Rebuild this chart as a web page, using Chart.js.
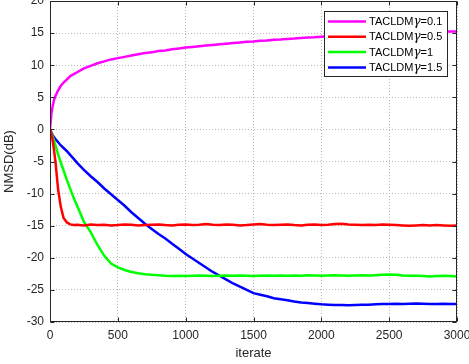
<!DOCTYPE html>
<html>
<head>
<meta charset="utf-8">
<script src="https://cdn.jsdelivr.net/npm/chart.js@4"></script>
<style>
  html, body { margin: 0; padding: 0; background: #fff; }
  canvas { display: block; }
</style>
</head>
<body>
<canvas id="nmsdChart" width="469" height="364"></canvas>
<script>
// iterations where the curves are sampled (dense at the start)
const iterations = [0, 10, 20, 30, 40, 60, 80, 100, 125, 150, 175, 200,
  250, 300, 350, 400, 450, 500, 550, 600, 650, 700,
  750, 800, 850, 900, 950, 1000, 1050, 1100, 1150, 1200,
  1250, 1300, 1350, 1400, 1450, 1500, 1550, 1600, 1650, 1700,
  1750, 1800, 1850, 1900, 1950, 2000, 2050, 2100, 2150, 2200,
  2250, 2300, 2350, 2400, 2450, 2500, 2550, 2600, 2650, 2700,
  2750, 2800, 2850, 2900, 2950, 3000];

const labels = ['TACLDM\u03b3=0.1', 'TACLDM\u03b3=0.5', 'TACLDM\u03b3=1', 'TACLDM\u03b3=1.5'];
const colors = ['#ff00ff', '#ff0000', '#00ff00', '#0000ff'];

const gamma01 = [0, 2.4, 3.7, 4.6, 5.2, 6.1, 6.8, 7.3, 7.8, 8.3, 8.6, 8.9,
  9.5, 9.9, 10.3, 10.6, 10.9, 11.1, 11.3, 11.5, 11.7, 11.9,
  12.0, 12.2, 12.3, 12.5, 12.6, 12.75, 12.85, 12.95, 13.05, 13.15,
  13.25, 13.35, 13.45, 13.55, 13.65, 13.7, 13.8, 13.85, 13.95, 14.0,
  14.1, 14.15, 14.25, 14.3, 14.35, 14.45, 14.5, 14.55, 14.6, 14.65,
  14.7, 14.75, 14.8, 14.85, 14.9, 14.95, 15.0, 15.0, 15.05, 15.1,
  15.1, 15.15, 15.2, 15.2, 15.25, 15.25];

const gamma05 = [0, -0.6, -1.8, -3.3, -5.0, -9.4, -12.1, -13.8, -14.5, -14.8, -14.9, -14.85,
  -14.95, -14.8, -14.9, -14.85, -14.95, -14.9, -14.8, -14.85, -14.95, -14.9,
  -14.85, -14.8, -14.9, -14.95, -14.85, -14.8, -14.9, -14.85, -14.75, -14.85,
  -14.9, -14.8, -14.85, -14.95, -14.9, -14.8, -14.75, -14.85, -14.9, -14.85,
  -14.8, -14.9, -14.95, -14.85, -14.8, -14.9, -14.85, -14.75, -14.7, -14.8,
  -14.85, -14.9, -14.85, -14.9, -14.8, -14.85, -14.9, -14.95, -15.0, -14.95,
  -14.9, -14.95, -14.9, -14.95, -15.0, -14.95];

const gamma1 = [0, -0.5, -1.1, -1.8, -2.5, -3.9, -5.2, -6.4, -7.9, -9.3, -10.7, -11.9,
  -14.4, -16.0, -18.0, -19.7, -20.9, -21.5, -21.9, -22.2, -22.4, -22.55,
  -22.65, -22.7, -22.8, -22.85, -22.8, -22.85, -22.8, -22.75, -22.8, -22.85,
  -22.8, -22.75, -22.8, -22.75, -22.8, -22.85, -22.8, -22.75, -22.8, -22.75,
  -22.8, -22.75, -22.8, -22.7, -22.75, -22.8, -22.75, -22.7, -22.75, -22.8,
  -22.75, -22.7, -22.75, -22.7, -22.65, -22.6, -22.65, -22.75, -22.8, -22.8,
  -22.85, -22.9, -22.85, -22.8, -22.85, -22.9];

const gamma15 = [0, -0.5, -0.9, -1.2, -1.5, -2.0, -2.5, -2.9, -3.4, -4.0, -4.6, -5.2,
  -6.3, -7.3, -8.2, -9.2, -10.1, -11.0, -11.9, -12.9, -13.8, -14.7,
  -15.5, -16.3, -17.0, -17.8, -18.6, -19.4, -20.1, -20.8, -21.5, -22.2,
  -22.8, -23.4, -24.0, -24.5, -25.0, -25.5, -25.75, -26.0, -26.3, -26.45,
  -26.6, -26.8, -26.95, -27.05, -27.15, -27.25, -27.3, -27.35, -27.35, -27.4,
  -27.35, -27.3, -27.3, -27.25, -27.2, -27.2, -27.15, -27.2, -27.15, -27.1,
  -27.15, -27.2, -27.2, -27.15, -27.2, -27.2];

const xTicks = [0, 500, 1000, 1500, 2000, 2500, 3000];
const yTicks = [-30, -25, -20, -15, -10, -5, 0, 5, 10, 15, 20];

const series = [gamma01, gamma05, gamma1, gamma15];
const textColor = '#262626';
const fontFamily = '"Liberation Sans", Arial, sans-serif';

// box around the axes, inward tick marks and the legend inside the plot
const matlabBox = {
  id: 'matlabBox',
  afterDatasetsDraw(chart) {
    const { ctx, chartArea: a, scales } = chart;
    const l = Math.round(a.left) + 0.5, r = Math.round(a.right) - 0.5;
    const t = Math.round(a.top) + 0.5, b = Math.round(a.bottom) - 0.5;
    ctx.save();
    ctx.strokeStyle = textColor;
    ctx.lineWidth = 1;
    ctx.strokeRect(l, t, r - l, b - t);
    ctx.beginPath();
    xTicks.forEach(v => {
      const px = Math.round(scales.x.getPixelForValue(v)) + 0.5;
      ctx.moveTo(px, b); ctx.lineTo(px, b - 4);
      ctx.moveTo(px, t); ctx.lineTo(px, t + 4);
    });
    yTicks.forEach(v => {
      const py = Math.round(scales.y.getPixelForValue(v)) + 0.5;
      ctx.moveTo(l, py); ctx.lineTo(l + 4, py);
      ctx.moveTo(r, py); ctx.lineTo(r - 4, py);
    });
    ctx.stroke();

    // legend; the gamma is drawn in a serif face like MATLAB's symbol font
    const lx = 324.5, ly = 11.5, lw = 123, lh = 65;
    ctx.fillStyle = '#ffffff';
    ctx.fillRect(lx, ly, lw, lh);
    ctx.strokeStyle = textColor;
    ctx.strokeRect(lx, ly, lw, lh);
    ctx.textBaseline = 'middle';
    ctx.textAlign = 'left';
    const sansFont = '11px ' + fontFamily;
    const gammaFont = 'italic 12px "DejaVu Serif", serif';
    labels.forEach((lab, i) => {
      const yy = 21.5 + i * 15.3;
      ctx.strokeStyle = colors[i];
      ctx.lineWidth = 2.5;
      ctx.beginPath();
      ctx.moveTo(328, yy);
      ctx.lineTo(366, yy);
      ctx.stroke();
      ctx.fillStyle = '#000000';
      let x = 369;
      lab.split(/(\u03b3)/).forEach(part => {
        if (!part) return;
        ctx.font = part === '\u03b3' ? gammaFont : sansFont;
        ctx.fillText(part, x, yy + 0.5);
        x += ctx.measureText(part).width;
      });
    });
    ctx.restore();
  }
};

const ctx = document.getElementById('nmsdChart').getContext('2d');
new Chart(ctx, {
  type: 'line',
  data: {
    datasets: series.map((s, i) => ({
      label: labels[i],
      data: iterations.map((it, k) => ({ x: it, y: s[k] })),
      borderColor: colors[i],
      backgroundColor: colors[i],
      borderWidth: 2.5,
      pointRadius: 0,
      tension: 0,
      fill: false,
    })),
  },
  options: {
    responsive: false,
    animation: false,
    events: [],
    layout: { padding: { top: 1, right: 12, left: 0, bottom: 0 } },
    plugins: {
      legend: { display: false },
      tooltip: { enabled: false },
    },
    scales: {
      x: {
        type: 'linear',
        min: 0,
        max: 3000,
        afterBuildTicks: s => { s.ticks = xTicks.map(v => ({ value: v })); },
        afterFit: s => { s.height = 42; s.paddingLeft = 0; s.paddingRight = 0; },
        grid: { color: '#b8b8b8', lineWidth: 1, drawTicks: false },
        border: { display: false, dash: [1, 2] },
        ticks: { color: textColor, padding: 6, maxRotation: 0, autoSkip: false,
          callback: v => String(v),
          font: { family: fontFamily, size: 12 } },
        title: { display: true, text: 'iterate', color: textColor,
          font: { family: fontFamily, size: 13 }, padding: { top: 3, bottom: 3 } },
      },
      y: {
        min: -30,
        max: 20,
        afterBuildTicks: s => { s.ticks = yTicks.map(v => ({ value: v })); },
        afterFit: s => { s.width = 50; s.paddingTop = 0; s.paddingBottom = 0; },
        grid: { color: '#b8b8b8', lineWidth: 1, drawTicks: false },
        border: { display: false, dash: [1, 2] },
        ticks: { color: textColor, padding: 6, autoSkip: false,
          callback: v => String(v),
          font: { family: fontFamily, size: 12 } },
        title: { display: true, text: 'NMSD(dB)', color: textColor,
          font: { family: fontFamily, size: 13 }, padding: { top: 2, bottom: 2 } },
      },
    },
  },
  plugins: [matlabBox],
});
</script>
</body>
</html>
